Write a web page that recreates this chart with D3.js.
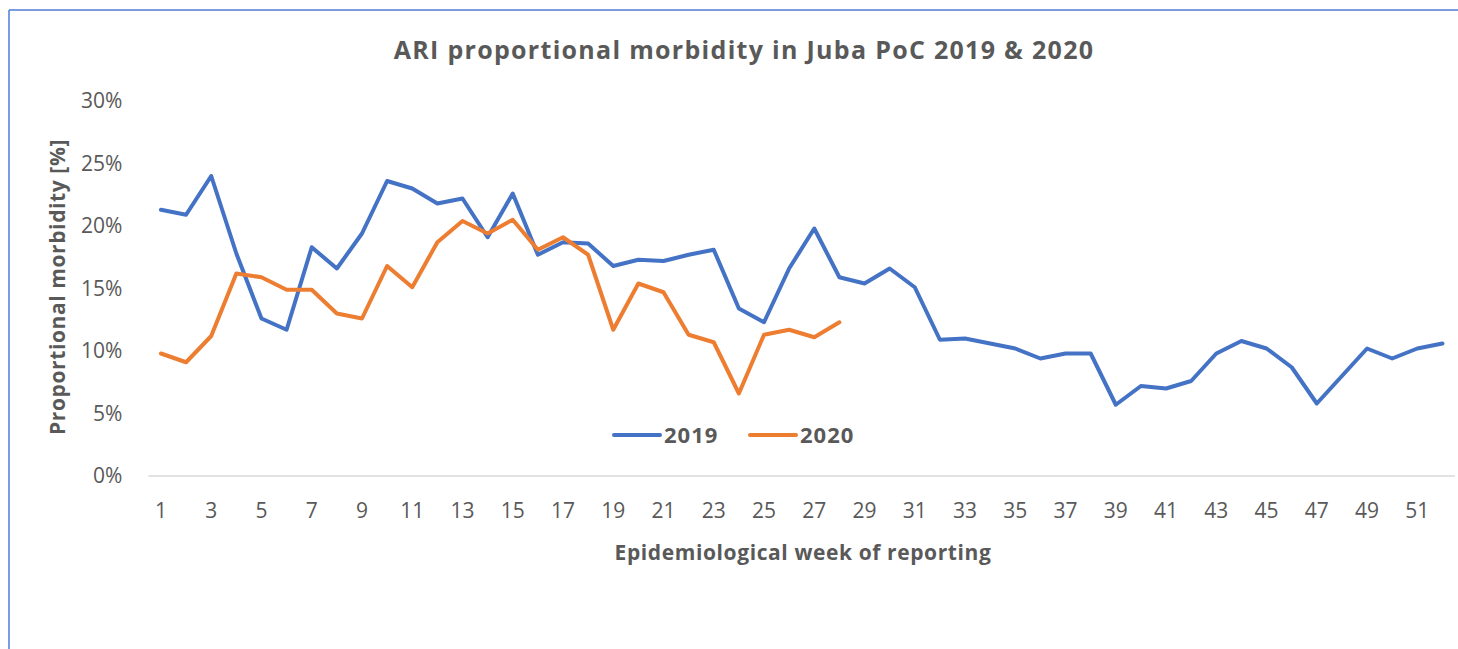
<!DOCTYPE html>
<html>
<head>
<meta charset="utf-8">
<script src="https://cdn.jsdelivr.net/npm/d3@7"></script>
<style>
  body { margin: 0; background: #fff; }
  text { font-family: "Open Sans", "Liberation Sans", sans-serif; fill: #595959; }
</style>
</head>
<body>
<svg id="chart"></svg>
<script>
// weeks 1..52
const weeks = d3.range(1, 53);

// ARI proportional morbidity (%) per week
const ari2019 = [21.3, 20.9, 24.0, 17.8, 12.6, 11.7, 18.3, 16.6, 19.4, 23.6,
  23.0, 21.8, 22.2, 19.1, 22.6, 17.7, 18.7, 18.6, 16.8, 17.3,
  17.2, 17.7, 18.1, 13.4, 12.3, 16.6, 19.8, 15.9, 15.4, 16.6,
  15.1, 10.9, 11.0, 10.6, 10.2, 9.4, 9.8, 9.8, 5.7, 7.2,
  7.0, 7.6, 9.8, 10.8, 10.2, 8.7, 5.8, 8.0, 10.2, 9.4,
  10.2, 10.6];
const ari2020 = [9.8, 9.1, 11.2, 16.2, 15.9, 14.9, 14.9, 13.0, 12.6, 16.8,
  15.1, 18.7, 20.4, 19.4, 20.5, 18.1, 19.1, 17.7, 11.7, 15.4,
  14.7, 11.3, 10.7, 6.6, 11.3, 11.7, 11.1, 12.3];

const yTicks = [0, 5, 10, 15, 20, 25, 30];
const seriesNames = ["2019", "2020"];
const seriesColors = ["#4472C4", "#ED7D31"];

function drawLineChart(svgSelector, width, height) {
  const svg = d3.select(svgSelector)
    .attr("width", width)
    .attr("height", height);

  // frame (only top and left visible)
  svg.append("line")
    .attr("x1", 9).attr("y1", 10).attr("x2", width).attr("y2", 10)
    .attr("stroke", "#4f7bd3").attr("stroke-width", 1.5);
  svg.append("line")
    .attr("x1", 9).attr("y1", 10).attr("x2", 9).attr("y2", height)
    .attr("stroke", "#4f7bd3").attr("stroke-width", 1.5);

  const margin = { top: 101, right: 3, bottom: 173, left: 148.4 };
  const chartWidth = width - margin.left - margin.right;
  const chartHeight = height - margin.top - margin.bottom;

  const g = svg.append("g")
    .attr("transform", `translate(${margin.left},${margin.top})`);

  // x axis (categories)
  const x = d3.scaleBand()
    .domain(weeks)
    .range([0, chartWidth]);

  // y axis
  const y = d3.scaleLinear()
    .domain([0, 30])
    .range([chartHeight, 0]);

  // baseline
  g.append("line")
    .attr("x1", 0).attr("x2", chartWidth)
    .attr("y1", y(0)).attr("y2", y(0))
    .attr("stroke", "#d9d9d9").attr("stroke-width", 1.5);

  const xAxis = g.append("g")
    .attr("transform", `translate(0,${chartHeight})`)
    .call(d3.axisBottom(x)
      .tickValues(weeks.filter(w => w % 2 === 1))
      .tickSize(0)
      .tickPadding(27));
  xAxis.select(".domain").remove();
  xAxis.selectAll("text")
    .style("font-size", "21px")
    .attr("fill", "#595959");

  const yAxis = g.append("g")
    .call(d3.axisLeft(y)
      .tickValues(yTicks)
      .tickFormat(d => d + "%")
      .tickSize(0)
      .tickPadding(26));
  yAxis.select(".domain").remove();
  yAxis.selectAll("text")
    .style("font-size", "21px")
    .attr("fill", "#595959");

  const line = d3.line()
    .x((d, i) => x(weeks[i]) + x.bandwidth() / 2)
    .y(d => y(d));

  [ari2019, ari2020].forEach((vals, i) => {
    g.append("path")
      .datum(vals)
      .attr("fill", "none")
      .attr("stroke", seriesColors[i])
      .attr("stroke-width", 4)
      .attr("stroke-linejoin", "round")
      .attr("stroke-linecap", "round")
      .attr("d", line);
  });

  // title
  svg.append("text")
    .attr("x", 744).attr("y", 59)
    .attr("text-anchor", "middle")
    .style("font-size", "25px")
    .style("font-weight", "bold")
    .style("letter-spacing", "1.3px")
    .text("ARI proportional morbidity in Juba PoC 2019 & 2020");

  // axis titles
  svg.append("text")
    .attr("transform", "translate(65,287) rotate(-90)")
    .attr("text-anchor", "middle")
    .style("font-size", "21px")
    .style("font-weight", "bold")
    .style("letter-spacing", "0.6px")
    .text("Proportional morbidity [%]");

  svg.append("text")
    .attr("x", 803).attr("y", 560)
    .attr("text-anchor", "middle")
    .style("font-size", "21px")
    .style("font-weight", "bold")
    .style("letter-spacing", "0.6px")
    .text("Epidemiological week of reporting");

  // legend
  const legend = svg.append("g").attr("transform", "translate(614,435)");
  seriesNames.forEach((name, i) => {
    const lg = legend.append("g").attr("transform", `translate(${i * 136},0)`);
    lg.append("line")
      .attr("x1", 0).attr("x2", 46)
      .attr("stroke", seriesColors[i])
      .attr("stroke-width", 4)
      .attr("stroke-linecap", "round");
    lg.append("text")
      .attr("x", 50).attr("y", 8)
      .style("font-size", "22px")
      .style("font-weight", "bold")
      .style("letter-spacing", "1px")
      .text(name);
  });
}

drawLineChart("#chart", 1458, 649);
</script>
</body>
</html>
